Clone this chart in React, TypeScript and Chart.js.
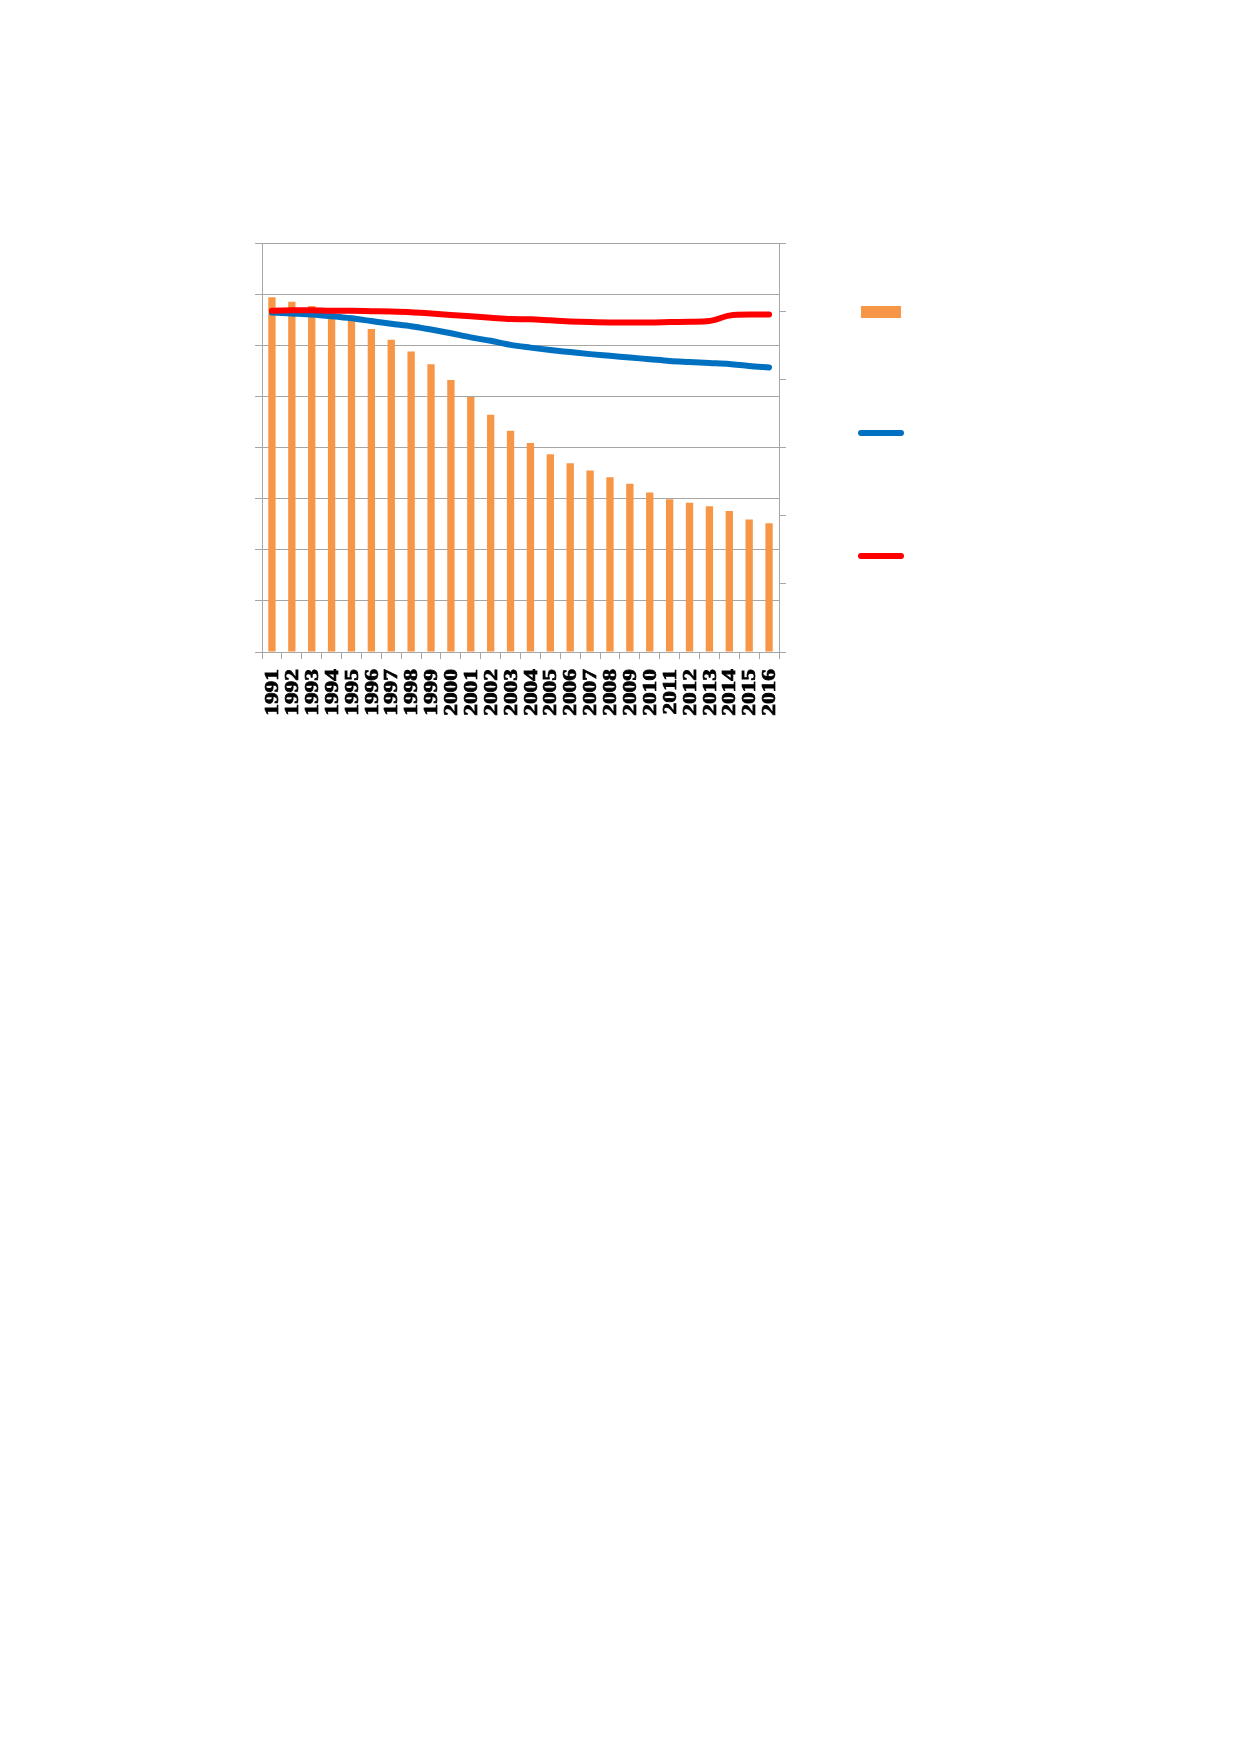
import React, { useEffect, useRef } from 'react'
import { Chart, registerables } from 'chart.js'

Chart.register(...registerables)

const years = [
    '1991', '1992', '1993', '1994', '1995', '1996', '1997', '1998', '1999', '2000',
    '2001', '2002', '2003', '2004', '2005', '2006', '2007', '2008', '2009', '2010',
    '2011', '2012', '2013', '2014', '2015', '2016'
]

// bars, left axis
const barValues = [
    69.4, 68.5, 67.7, 66.5, 65.0, 63.2, 61.1, 58.8, 56.3, 53.2,
    49.9, 46.4, 43.3, 40.9, 38.7, 36.9, 35.5, 34.2, 32.9, 31.2,
    29.9, 29.2, 28.5, 27.6, 25.9, 25.2
]

// lines, right axis
const blueValues = [
    99.6, 99.3, 99.0, 98.5, 97.9, 97.1, 96.3, 95.6, 94.6, 93.5,
    92.3, 91.3, 90.1, 89.3, 88.6, 88.0, 87.4, 86.9, 86.4, 85.9,
    85.4, 85.1, 84.8, 84.5, 83.9, 83.5
]
const redValues = [
    100.1, 100.3, 100.3, 100.1, 100.1, 100.0, 99.9, 99.7, 99.3, 98.9,
    98.5, 98.1, 97.7, 97.6, 97.3, 97.0, 96.8, 96.7, 96.7, 96.7,
    96.8, 96.9, 97.1, 98.7, 99.0, 99.0
]

const leftMax = 80
const leftStep = 10
const rightMax = 120
const rightStep = 20

const gridColor = '#a6a6a6'

// legend markers drawn at the right, labels are empty in the source
const legendPlugin = {
    id: 'sideLegend',
    afterDraw(chart: any) {
        const ctx = chart.ctx
        const x0 = 858
        const x1 = 904
        const rows = [312, 433, 556]
        ctx.save()
        chart.data.datasets.forEach((ds: any, i: number) => {
            const y = rows[i]
            if (ds.type === 'bar') {
                ctx.fillStyle = ds.backgroundColor
                ctx.fillRect(x0 + 3, y - 6, 40, 12)
            } else {
                ctx.strokeStyle = ds.borderColor
                ctx.lineWidth = 6
                ctx.lineCap = 'round'
                ctx.beginPath()
                ctx.moveTo(x0 + 3, y)
                ctx.lineTo(x1 - 3, y)
                ctx.stroke()
            }
        })
        ctx.restore()
    }
}

// year labels: bold serif, rotated and stretched along the text like the source
const yearLabelPlugin = {
    id: 'yearLabels',
    afterDraw(chart: any) {
        const ctx = chart.ctx
        const xs = chart.scales.x
        ctx.save()
        ctx.font = 'bold 18px "Liberation Serif", serif'
        ctx.fillStyle = '#000000'
        ctx.strokeStyle = '#000000'
        ctx.lineWidth = 0.7
        ctx.textAlign = 'right'
        ctx.textBaseline = 'middle'
        xs.ticks.forEach((t: any, i: number) => {
            const px = xs.getPixelForTick(i)
            const text = xs.getLabelForValue(t.value)
            ctx.save()
            ctx.translate(px + 1.5, xs.top + 17)
            ctx.rotate(-Math.PI / 2)
            ctx.scale(1.3, 1)
            ctx.fillText(text, 0, 0)
            ctx.strokeText(text, 0, 0)
            ctx.restore()
        })
        ctx.restore()
    }
}

const App: React.FC = () => {
    const chartRef = useRef<HTMLCanvasElement>(null)
    const chartInstance = useRef<Chart | null>(null)

    useEffect(() => {
        if (!chartRef.current) return
        const ctx = chartRef.current.getContext('2d')
        if (!ctx) return
        if (chartInstance.current) chartInstance.current.destroy()

        chartInstance.current = new Chart(ctx, {
            type: 'bar',
            data: {
                labels: years,
                datasets: [
                    {
                        type: 'bar',
                        label: '',
                        data: barValues,
                        backgroundColor: '#f79646',
                        barPercentage: 0.46,
                        categoryPercentage: 0.8,
                        yAxisID: 'y',
                        order: 2
                    },
                    {
                        type: 'line',
                        label: '',
                        data: blueValues,
                        borderColor: '#0070c0',
                        backgroundColor: '#0070c0',
                        borderWidth: 6,
                        borderCapStyle: 'round',
                        pointRadius: 0,
                        cubicInterpolationMode: 'monotone',
                        yAxisID: 'y1',
                        order: 1
                    },
                    {
                        type: 'line',
                        label: '',
                        data: redValues,
                        borderColor: '#ff0000',
                        backgroundColor: '#ff0000',
                        borderWidth: 6,
                        borderCapStyle: 'round',
                        pointRadius: 0,
                        cubicInterpolationMode: 'monotone',
                        yAxisID: 'y1',
                        order: 0
                    }
                ] as any
            },
            options: {
                responsive: false,
                animation: false,
                layout: {
                    padding: { left: 255, right: 453, top: 243, bottom: 28 }
                },
                plugins: {
                    legend: { display: false },
                    tooltip: { enabled: false }
                },
                scales: {
                    x: {
                        offset: true,
                        grid: {
                            offset: true,
                            drawOnChartArea: false,
                            drawTicks: true,
                            tickLength: 7,
                            color: gridColor
                        },
                        border: { color: gridColor },
                        ticks: { autoSkip: false, display: false },
                        afterFit(scale: any) {
                            scale.height = 80
                        }
                    },
                    y: {
                        position: 'left',
                        min: 0,
                        max: leftMax,
                        ticks: { stepSize: leftStep, display: false },
                        grid: { color: gridColor, tickLength: 7, drawTicks: true },
                        border: { color: gridColor }
                    },
                    y1: {
                        position: 'right',
                        min: 0,
                        max: rightMax,
                        ticks: { stepSize: rightStep, display: false },
                        grid: { drawOnChartArea: false, color: gridColor, tickLength: 7, drawTicks: true },
                        border: { color: gridColor }
                    }
                }
            },
            plugins: [legendPlugin, yearLabelPlugin]
        })

        return () => {
            if (chartInstance.current) {
                chartInstance.current.destroy()
                chartInstance.current = null
            }
        }
    }, [])

    return (
        <div style={{ position: 'absolute', left: 0, top: 0, width: 1239, height: 760, background: '#ffffff' }}>
            <canvas ref={chartRef} width={1239} height={760} style={{ display: 'block' }}></canvas>
        </div>
    )
}

export default App
